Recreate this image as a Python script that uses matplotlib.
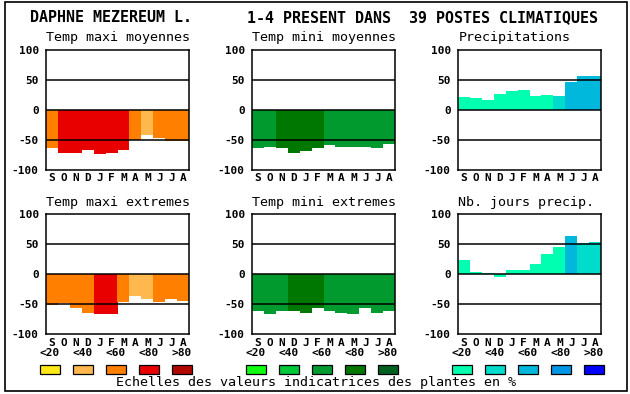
import matplotlib
matplotlib.use('Agg')
import matplotlib.pyplot as plt
from matplotlib.patches import Rectangle

W, H = 630, 394

# ---------------- data ----------------
title_left = 'DAPHNE MEZEREUM L.'
title_right = '1-4 PRESENT DANS  39 POSTES CLIMATIQUES'
caption = 'Echelles des valeurs indicatrices des plantes en %'
months = ['S', 'O', 'N', 'D', 'J', 'F', 'M', 'A', 'M', 'J', 'J', 'A']
yticks = [-100, -50, 0, 50, 100]
legend_labels = ['<20', '<40', '<60', '<80', '>80']

panel_titles = ['Temp maxi moyennes', 'Temp mini moyennes', 'Precipitations',
                'Temp maxi extremes', 'Temp mini extremes', 'Nb. jours precip.']

tmax_moy = [-63, -71, -71, -66, -73, -71, -66, -50, -42, -47, -52, -52]
tmax_moy_cls = [2, 3, 3, 3, 3, 3, 3, 2, 1, 2, 2, 2]
tmin_moy = [-63, -61, -64, -71, -68, -63, -58, -61, -61, -61, -63, -56]
tmin_moy_cls = [2, 2, 3, 3, 3, 3, 2, 2, 2, 2, 2, 2]
precip = [22, 20, 17, 27, 32, 33, 23, 25, 23, 47, 57, 57]
precip_cls = [0, 0, 0, 0, 0, 0, 0, 0, 1, 2, 2, 2]
tmax_ext = [-52, -48, -57, -64, -67, -67, -47, -37, -42, -46, -42, -44]
tmax_ext_cls = [2, 2, 2, 2, 3, 3, 2, 1, 1, 2, 2, 2]
tmin_ext = [-62, -66, -61, -61, -64, -57, -61, -64, -67, -56, -64, -61]
tmin_ext_cls = [2, 2, 2, 3, 3, 3, 2, 2, 2, 2, 2, 2]
nb_jours = [24, 4, 2, -4, 7, 7, 17, 34, 46, 64, 52, 54]
nb_jours_cls = [0, 0, 0, 0, 0, 0, 0, 0, 0, 2, 1, 1]

pal_maxi = ['#FFE818', '#FFB84E', '#FF8000', '#E80000', '#B00800']
pal_mini = ['#10FF10', '#00C83A', '#009A2E', '#007800', '#006020']
pal_prec = ['#00FFB0', '#00DCCC', '#00B8DC', '#0096E6', '#0000FF']

panels = [
    (tmax_moy, tmax_moy_cls, pal_maxi),
    (tmin_moy, tmin_moy_cls, pal_mini),
    (precip, precip_cls, pal_prec),
    (tmax_ext, tmax_ext_cls, pal_maxi),
    (tmin_ext, tmin_ext_cls, pal_mini),
    (nb_jours, nb_jours_cls, pal_prec),
]
palettes = [pal_maxi, pal_mini, pal_prec]

# ---------------- figure ----------------
MONO = ['DejaVu Sans Mono']
fig = plt.figure(figsize=(W / 100, H / 100), dpi=100)
fig.patch.set_facecolor('white')


def fx(px):
    return px / W


def fy(py):
    return 1 - py / H


# outer border
fig.patches.append(Rectangle((fx(4.5), fy(390.5)), fx(622), (386.5 + 2) / H,
                             transform=fig.transFigure, fill=False,
                             edgecolor='black', linewidth=1.2))

fig.text(fx(30), fy(18), title_left, family=MONO, weight='bold', fontsize=10.8,
         ha='left', va='center')
fig.text(fx(247), fy(18), title_right, family=MONO, weight='bold', fontsize=10.8,
         ha='left', va='center')

lefts = [45.7, 251.7, 457.7]
tops = [50, 214.3]
aw, ah = 143.6, 120

for i, (vals, cls, pal) in enumerate(panels):
    r, c = divmod(i, 3)
    L, T = lefts[c], tops[r]
    ax = fig.add_axes([fx(L), fy(T + ah), aw / W, ah / H])
    x = list(range(len(vals)))
    ax.bar(x, vals, width=1.0, color=[pal[k] for k in cls], linewidth=0, zorder=2)
    for yv in (50, 0, -50):
        ax.axhline(yv, color='black', linewidth=1.1, zorder=3)
    ax.set_xlim(-0.5, 11.5)
    ax.set_ylim(-100, 100)
    ax.set_yticks(yticks)
    ax.set_yticklabels([str(v) for v in yticks], family=MONO, weight='bold', fontsize=8)
    ax.set_xticks(x)
    ax.set_xticklabels(months, family=MONO, weight='bold', fontsize=8)
    ax.tick_params(length=0, axis='y', pad=5)
    ax.tick_params(length=0, axis='x', pad=2.5)
    for s in ax.spines.values():
        s.set_linewidth(1.1)
        s.set_zorder(4)
    ax.text(0.005, 1.0 + 12 / ah, panel_titles[i], transform=ax.transAxes,
            family=MONO, fontsize=9.6, ha='left', va='center')

# legend
for g, pal in enumerate(palettes):
    base = lefts[g] - 6
    for k, lab in enumerate(legend_labels):
        bx = base + 33 * k
        fig.patches.append(Rectangle((fx(bx), fy(373.5)), 20 / W, 8.5 / H,
                                     transform=fig.transFigure, facecolor=pal[k],
                                     edgecolor='black', linewidth=0.9))
        fig.text(fx(bx + 10), fy(353), lab, family=MONO, weight='bold', fontsize=8,
                 ha='center', va='center')

fig.text(fx(316), fy(382.5), caption, family=MONO, fontsize=9.6,
         ha='center', va='center')

fig.savefig('out.png', dpi=100, facecolor='white')
